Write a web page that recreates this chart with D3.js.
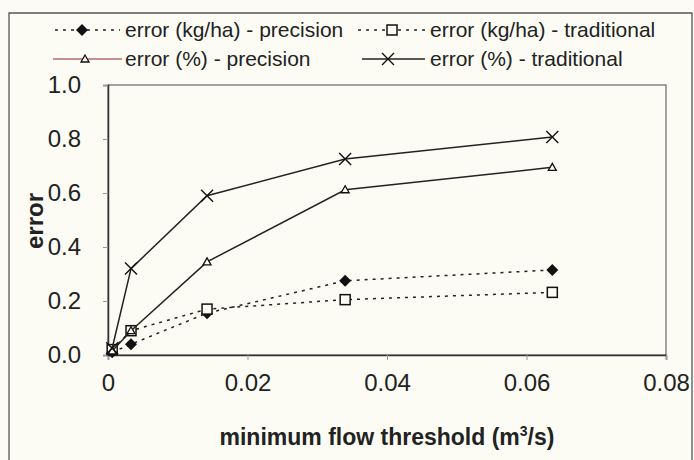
<!DOCTYPE html>
<html><head><meta charset="utf-8">
<script src="https://cdn.jsdelivr.net/npm/d3@7"></script>
<style>html,body{margin:0;padding:0;background:#fcfcf5;}svg{display:block;font-family:"Liberation Sans",Arial,sans-serif;}</style>
</head><body>
<script>
const xValues = [0.0006, 0.0033, 0.0142, 0.034, 0.0637];
const kgPrecision = [0.01, 0.04, 0.155, 0.275, 0.315];
const kgTraditional = [0.02, 0.09, 0.17, 0.205, 0.232];
const pctPrecision = [0.015, 0.09, 0.345, 0.612, 0.695];
const pctTraditional = [0.025, 0.32, 0.59, 0.726, 0.807];
const xTicks = [0, 0.02, 0.04, 0.06, 0.08];
const yTicks = [0, 0.2, 0.4, 0.6, 0.8, 1.0];
const seriesNames = ["error (kg/ha) - precision", "error (kg/ha) - traditional", "error (%) - precision", "error (%) - traditional"];

const W = 694, H = 460;
const svg = d3.select("body").append("svg").attr("width", W).attr("height", H);
svg.append("rect").attr("width", W).attr("height", H).attr("fill", "#fcfcf5");
// outer frame
svg.append("path").attr("d", "M9,470V13H692V470").attr("fill", "none").attr("stroke", "#555").attr("stroke-width", 1.3);

const x = d3.scaleLinear().domain([0, 0.08]).range([108, 666]);
const y = d3.scaleLinear().domain([0, 1]).range([355, 85]);

// plot box
svg.append("rect").attr("x", 108).attr("y", 85).attr("width", 558).attr("height", 270)
  .attr("fill", "none").attr("stroke", "#666").attr("stroke-width", 1.2);

const ink = "#222";
const xAxis = svg.append("g").attr("transform", "translate(0,355)")
  .call(d3.axisBottom(x).tickValues(xTicks).tickFormat(d => d === 0 ? "0" : d3.format(".2f")(d)).tickSize(5).tickPadding(14));
const yAxis = svg.append("g").attr("transform", "translate(108,0)")
  .call(d3.axisLeft(y).tickValues(yTicks).tickFormat(d3.format(".1f")).tickSize(5).tickPadding(22));
[xAxis, yAxis].forEach(g => {
  g.select(".domain").attr("stroke", "#333").attr("stroke-width", 1.5);
  g.selectAll(".tick line").attr("stroke", "#999");
  g.selectAll(".tick text").attr("font-size", 24).attr("fill", ink).attr("font-family", "Liberation Sans, Arial, sans-serif");
});

svg.append("text").attr("x", 387).attr("y", 445).attr("text-anchor", "middle")
  .attr("font-size", 23).attr("font-weight", "bold").attr("fill", ink)
  .html('minimum flow threshold (m<tspan dy="-9" font-size="14">3</tspan><tspan dy="9">/s)</tspan>');
svg.append("text").attr("transform", "translate(43,221) rotate(-90)").attr("text-anchor", "middle")
  .attr("font-size", 24).attr("font-weight", "bold").attr("fill", ink).text("error");

const line = d3.line().x((d, i) => x(xValues[i])).y(d => y(d));
const series = [
  {v: kgPrecision, dash: "3,5", color: ink, w: 1.5, marker: "diamond"},
  {v: kgTraditional, dash: "3,5", color: ink, w: 1.5, marker: "square"},
  {v: pctPrecision, dash: null, color: ink, w: 1.5, marker: "triangle"},
  {v: pctTraditional, dash: null, color: ink, w: 1.5, marker: "cross"}
];

function drawMarker(g, type, cx, cy) {
  if (type === "diamond") {
    g.append("path").attr("d", `M${cx},${cy-6}L${cx+6},${cy}L${cx},${cy+6}L${cx-6},${cy}Z`).attr("fill", "#111");
  } else if (type === "square") {
    g.append("rect").attr("x", cx - 5).attr("y", cy - 5).attr("width", 10).attr("height", 10)
      .attr("fill", "#fcfcf5").attr("stroke", "#111").attr("stroke-width", 1.5);
  } else if (type === "triangle") {
    g.append("path").attr("d", `M${cx},${cy-4}L${cx+4},${cy+3}L${cx-4},${cy+3}Z`)
      .attr("fill", "#fcfcf5").attr("stroke", "#111").attr("stroke-width", 1.3);
  } else {
    g.append("path").attr("d", `M${cx-6},${cy-6}L${cx+6},${cy+6}M${cx+6},${cy-6}L${cx-6},${cy+6}`)
      .attr("stroke", "#111").attr("stroke-width", 1.4);
  }
}

series.forEach(s => {
  const g = svg.append("g");
  g.append("path").datum(s.v).attr("d", line).attr("fill", "none").attr("stroke", s.color)
    .attr("stroke-width", s.w).attr("stroke-dasharray", s.dash);
  s.v.forEach((d, i) => drawMarker(g, s.marker, x(xValues[i]), y(d)));
});

// legend
const leg = [
  {x0: 55, x1: 120, mx: 82, ty: 30, tx: 125, s: series[0], color: ink},
  {x0: 358, x1: 427, mx: 392, ty: 30, tx: 430, s: series[1], color: ink},
  {x0: 53, x1: 122, mx: 85, ty: 59, tx: 125, s: series[2], color: "#b86a78"},
  {x0: 362, x1: 425, mx: 388, ty: 59, tx: 430, s: series[3], color: ink}
];
leg.forEach((l, i) => {
  const g = svg.append("g");
  g.append("line").attr("x1", l.x0).attr("x2", l.x1).attr("y1", l.ty).attr("y2", l.ty)
    .attr("stroke", l.color).attr("stroke-width", 1.5).attr("stroke-dasharray", l.s.dash);
  drawMarker(g, l.s.marker, l.mx, l.ty);
  g.append("text").attr("x", l.tx).attr("y", l.ty + 7).attr("font-size", 21).attr("fill", ink).text(seriesNames[i]);
});
</script>
</body></html>
